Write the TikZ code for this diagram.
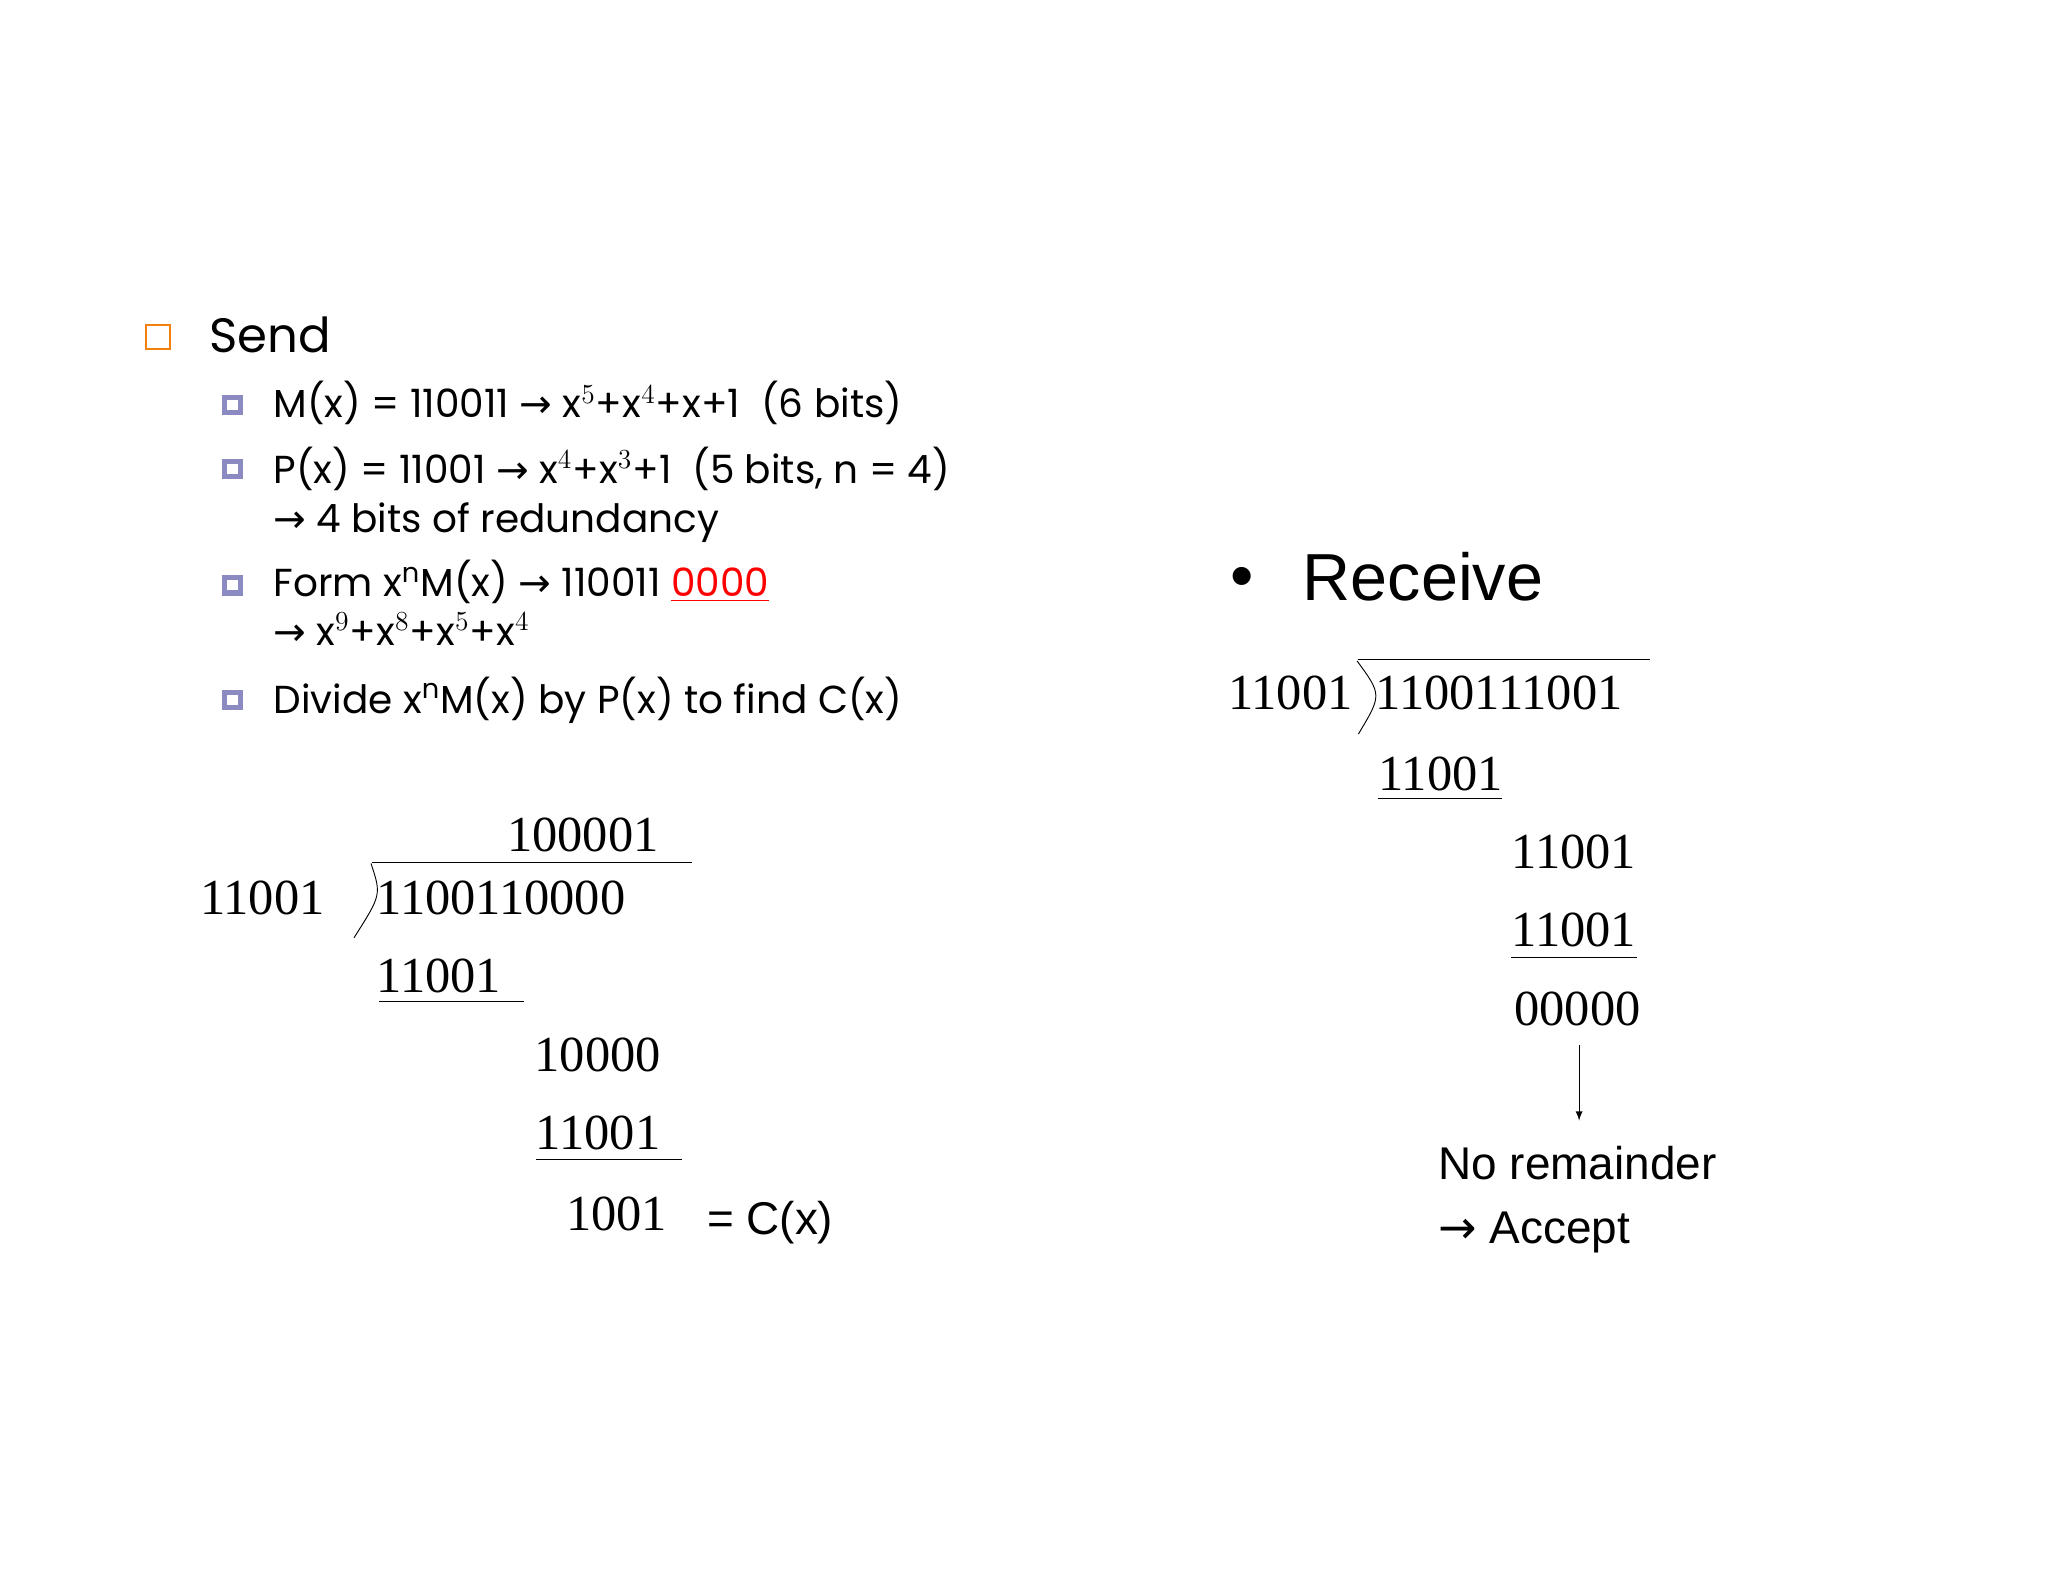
\documentclass[tikz,border=0pt]{standalone}
\usepackage{fontspec}
\setmainfont{Poppins}
\newfontfamily\tms{Liberation Serif}
\newfontfamily\arl{Liberation Sans}
\newfontfamily\dvs{DejaVu Sans}
\newcommand{\arr}{{\dvs\symbol{"2192}}}
\begin{document}
\begin{tikzpicture}[x=0.02cm,y=-0.02cm,
  bt/.style={anchor=base west,inner sep=0,font=\fontsize{17}{20}\selectfont},
  nm/.style={anchor=base west,inner sep=0,font=\tms\fontsize{22}{24}\selectfont},
  ar/.style={anchor=base west,inner sep=0,font=\arl\fontsize{20}{24}\selectfont},
  bsq/.style={draw=blue!30!gray!70,line width=2.2pt}]
\useasboundingbox (0,0) rectangle (1568,1211);
\draw[draw=orange!80!brown,line width=1pt] (112,249) rectangle (130,267);
\node[anchor=base west,inner sep=0,font=\fontsize{21}{24}\selectfont] (send) at (160,270) {Send};
\foreach \y in {310,359,448,536} \draw[bsq] (172,\y-6) rectangle (184,\y+6);
\node[bt] (m) at (209,320) {M(x) = 110011 \arr{} x$^{5}$+x$^{4}$+x+1\ \ (6 bits)};
\node[bt] (p) at (209,370) {P(x) = 11001 \arr{} x$^{4}$+x$^{3}$+1\ \ (5 bits, n = 4)};
\node[bt] (p2) at (209,408) {\arr{} 4 bits of redundancy};
\node[bt] (f) at (209,457) {Form x$^{\mathrm{n}}$M(x) \arr{} 110011 \textcolor{red}{\underline{0000}}};
\node[bt] (f2) at (209,494) {\arr{} x$^{9}$+x$^{8}$+x$^{5}$+x$^{4}$};
\node[bt] (d) at (209,546) {Divide x$^{\mathrm{n}}$M(x) by P(x) to find C(x)};
% left division
\node[nm] (q) at (388,652) {100001};
\node[nm] (dv) at (153,700) {11001};
\draw (285,660) -- (530,660);
\draw (284,661) .. controls (292,685) .. (271,718);
\node[nm] (dd) at (288,700) {1100110000};
\node[nm] (s1) at (288,760) {11001};
\draw (290,767) -- (401,767);
\node[nm] (r1) at (409,820) {10000};
\node[nm] (s2) at (410,880) {11001};
\draw (410,888) -- (522,888);
\node[nm] (rem) at (433,942) {1001};
\node[ar] (cx) at (541,945) {= C(x)};
% receive
\node[ar,font=\arl\fontsize{29}{32}\selectfont] (bul) at (942,458) {\textbullet};
\node[ar,font=\arl\fontsize{29}{32}\selectfont] (rcv) at (997,460) {Receive};
\node[nm] (rdv) at (940,543) {11001};
\draw (1040,505) -- (1263,505);
\draw (1039,506) .. controls (1058,532) .. (1040,562);
\node[nm] (rdd) at (1053,543) {1100111001};
\node[nm] (rs1) at (1055,605) {11001};
\draw (1055,611) -- (1150,611);
\node[nm] (rr1) at (1157,665) {11001};
\node[nm] (rs2) at (1157,725) {11001};
\draw (1157,733) -- (1253,733);
\node[nm] (rz) at (1159,785) {00000};
\coordinate (a1) at (1209,800);
\coordinate (a2) at (1209,858);
\draw[-latex] (a1) -- (a2);
\node[ar] (nr) at (1101,903) {No remainder};
\node[ar] (acc) at (1101,952) {\arr{} Accept};
\end{tikzpicture}
\end{document}
